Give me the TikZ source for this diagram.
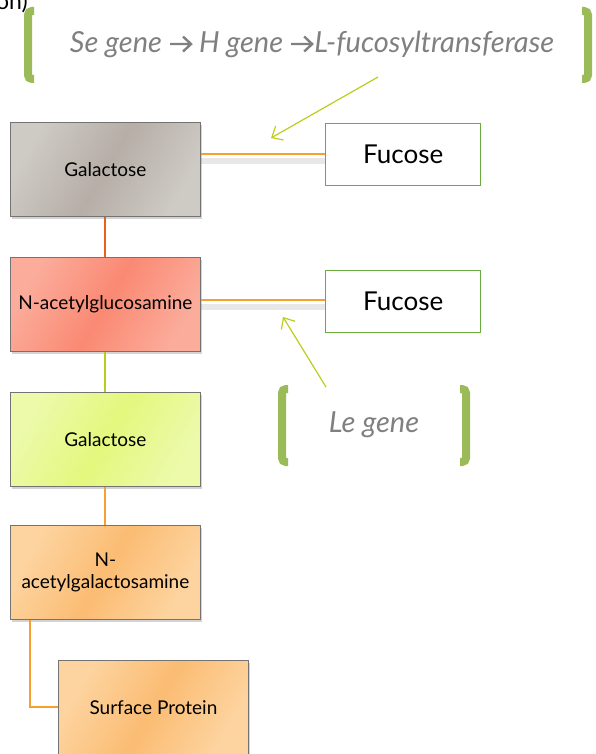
\documentclass[tikz,border=0pt]{standalone}
\usepackage{fontspec}
\setmainfont{Lato}
\usetikzlibrary{shadows,arrows.meta}
\definecolor{brgreen}{HTML}{9BBB59}
\definecolor{fucgreen}{HTML}{6AAB3E}
\definecolor{lnorange}{HTML}{F7A030}
\definecolor{lnred}{HTML}{E8601C}
\definecolor{lnyg}{HTML}{B8CC1C}
\definecolor{arrg}{HTML}{BCCD1E}
\definecolor{txtgray}{HTML}{808080}
\newcommand{\txtarrow}{\tikz[baseline={(0pt,-8pt)}]{\draw[line width=2.4pt, txtgray, line join=miter]
   (0pt,0pt) -- (21pt,0pt) (13pt,7.5pt) -- (21pt,0pt) -- (13pt,-7.5pt);}}
\tikzset{
  x=1pt, y=-1pt,
  sugar/.style={draw=black!55, line width=0.8pt, minimum width=190pt, minimum height=94pt,
     anchor=north west, inner sep=1pt, align=center, font=\fontsize{19}{21.5}\selectfont,
     drop shadow={opacity=0.35, shadow xshift=1.5pt, shadow yshift=-2.5pt}},
  fucbox/.style={draw=fucgreen, line width=1.4pt, fill=white, minimum width=155pt, minimum height=62pt,
     anchor=north west, font=\fontsize{26}{30}\selectfont},
  link/.style={line width=2pt},
  lnshadow/.style={line width=6pt, draw=black, opacity=0.09},
  bracket/.style={draw=brgreen, line width=8pt, rounded corners=4pt},
  genearrow/.style={draw=arrg, line width=1.2pt, -{Straight Barb[length=9pt,width=16pt]}},
  genetext/.style={text=txtgray, font=\fontsize{29}{33}\selectfont\itshape},
}
\begin{document}
\begin{tikzpicture}
\useasboundingbox (0,0) rectangle (595,754);
\clip (0,0) rectangle (595,754);
% cut-off text
\node[anchor=base west, inner sep=0pt, font=\fontsize{23}{26}\selectfont] (cut) at (-4,10) {on)};
% top bracket + text
\draw[bracket] (34,11) -- (28,11) -- (28,79) -- (34,79);
\draw[bracket] (582,11) -- (588,11) -- (588,79) -- (582,79);
\node[genetext] (segene) at (312,44) {Se gene \txtarrow\ H gene \txtarrow\kern1pt L-fucosyltransferase};
% sugar boxes
\node[sugar, left color={rgb,255:red,206;green,202;blue,196}, right color={rgb,255:red,206;green,202;blue,196}, middle color={rgb,255:red,182;green,174;blue,167}, shading angle=60] (gal1) at (10,122) {Galactose};
\node[sugar, left color={rgb,255:red,251;green,172;blue,155}, right color={rgb,255:red,251;green,172;blue,155}, middle color={rgb,255:red,250;green,137;blue,115}, shading angle=60] (nag) at (10,257) {N-acetylglucosamine};
\node[sugar, left color={rgb,255:red,236;green,250;blue,170}, right color={rgb,255:red,236;green,250;blue,170}, middle color={rgb,255:red,228;green,247;blue,125}, shading angle=60] (gal2) at (10,392) {Galactose};
\node[sugar, left color={rgb,255:red,253;green,212;blue,160}, right color={rgb,255:red,253;green,212;blue,160}, middle color={rgb,255:red,251;green,188;blue,115}, shading angle=60] (ngal) at (10,525) {N-\\acetylgalactosamine};
\node[sugar, left color={rgb,255:red,253;green,212;blue,160}, right color={rgb,255:red,253;green,212;blue,160}, middle color={rgb,255:red,251;green,188;blue,115}, shading angle=60] (surf) at (58,660) {Surface Protein};
% fucose boxes
\node[fucbox] (fuc1) at (325,123) {Fucose};
\node[fucbox] (fuc2) at (325,270) {Fucose};
% connectors
\draw[lnshadow] ([yshift=-7pt]gal1.east |- 0,154) -- ([yshift=-7pt]fuc1.west |- 0,154);
\draw[lnshadow] ([yshift=-7pt]nag.east |- 0,300) -- ([yshift=-7pt]fuc2.west |- 0,300);
\draw[link, lnorange] (gal1.east |- 0,154) -- (fuc1.west |- 0,154);
\draw[link, lnorange] (nag.east |- 0,300) -- (fuc2.west |- 0,300);
\draw[link, lnred] (gal1.south) -- (nag.north);
\draw[link, lnyg] (nag.south) -- (gal2.north);
\draw[link, lnorange] (gal2.south) -- (ngal.north);
\coordinate (elb) at (30,707);
\draw[link, lnorange] (ngal.south west -| elb) -- (elb) -- (surf.west |- elb);
% Le gene bracket
\draw[bracket] (288,389) -- (282,389) -- (282,462) -- (288,462);
\draw[bracket] (460,389) -- (466,389) -- (466,462) -- (460,462);
\node[genetext] (legene) at (374,425) {Le gene};
% arrows
\coordinate (a1s) at (378,77);
\coordinate (a1e) at (271,138);
\draw[genearrow] (a1s) -- (a1e);
\coordinate (a2s) at (326,387);
\coordinate (a2e) at (283,317);
\draw[genearrow] (a2s) -- (a2e);
\end{tikzpicture}
\end{document}
